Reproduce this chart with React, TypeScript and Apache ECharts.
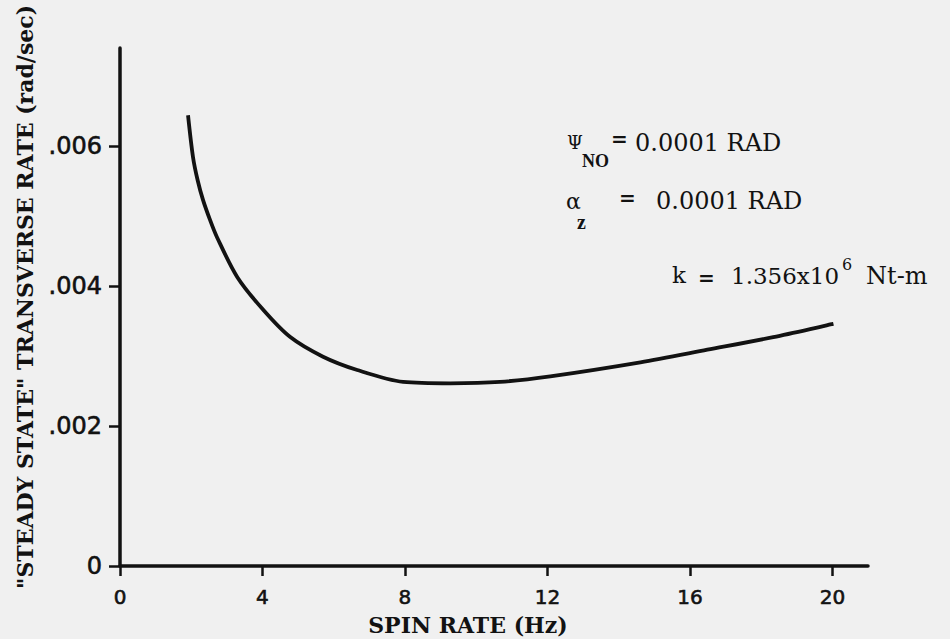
import React, { useEffect, useRef } from 'react';
import * as echarts from 'echarts';

// Values
const spinRate = [1.91, 2.05, 2.18, 2.33, 2.53, 2.72, 3.29, 4.02, 4.78, 5.7, 6.66, 7.95, 9.27, 10.67, 12.08, 14.61, 16.49, 18.34, 20.03];
const transverseRate = [0.00644, 0.00584, 0.00551, 0.00523, 0.00494, 0.0047, 0.00413, 0.00366, 0.00327, 0.00299, 0.0028, 0.00263, 0.00261, 0.00263, 0.00271, 0.00291, 0.00309, 0.00327, 0.00346];
const yTickLabels = ['0', '.002', '.004', '.006'];
const xTitle = 'SPIN RATE (Hz)';
const yTitle = '"STEADY STATE" TRANSVERSE RATE (rad/sec)';

const INK = '#121212';
const SERIF = '"DejaVu Serif", serif';
const TITLE = '"Liberation Serif", serif';
const SANS = '"DejaVu Sans", sans-serif';

export default function App() {
  const ref = useRef<HTMLDivElement>(null);
  useEffect(() => {
    if (!ref.current) return;
    const chart = echarts.init(ref.current, null, { renderer: 'svg' });
    const txt = (text: string, x: number, y: number, size: number, extra: any = {}, rotation = 0) => ({
      type: 'text',
      x,
      y,
      rotation,
      style: {
        text,
        fill: INK,
        fontFamily: SERIF,
        fontSize: size,
        textAlign: 'left',
        textVerticalAlign: 'middle',
        ...extra,
      },
    });
    chart.setOption({
      animation: false,
      backgroundColor: '#f0f0f0',
      grid: { left: 120, right: 82, top: 48, bottom: 73, containLabel: false },
      xAxis: {
        type: 'value',
        min: 0,
        max: 21,
        interval: 4,
        axisLine: { show: true, lineStyle: { color: INK, width: 3.5 } },
        axisTick: { show: true, length: 10, lineStyle: { color: INK, width: 2.5 } },
        axisLabel: {
          color: INK,
          fontFamily: SANS,
          fontSize: 20,
          margin: 21,
          textBorderColor: INK,
          textBorderWidth: 0.6,
          showMaxLabel: false,
        },
        splitLine: { show: false },
      },
      yAxis: {
        type: 'value',
        min: 0,
        max: 0.0074,
        interval: 0.002,
        axisLine: { show: true, lineStyle: { color: INK, width: 3.5 } },
        axisTick: { show: true, length: 11, lineStyle: { color: INK, width: 2.5 } },
        axisLabel: {
          color: INK,
          fontFamily: SANS,
          fontSize: 24,
          margin: 18,
          textBorderColor: INK,
          textBorderWidth: 0.6,
          showMaxLabel: false,
          formatter: (v: number) => yTickLabels[Math.round(v / 0.002)] ?? '',
        },
        splitLine: { show: false },
      },
      series: [
        {
          type: 'line',
          data: spinRate.map((x, i) => [x, transverseRate[i]]),
          smooth: 0.3,
          symbol: 'none',
          lineStyle: { color: INK, width: 3.8 },
        },
      ],
      graphic: [
        txt(yTitle, 25, 297, 22, { textAlign: 'center', fontWeight: 'bold' }, Math.PI / 2),
        txt(xTitle, 468, 625, 22, { textAlign: 'center', fontWeight: 'bold' }),
        // Psi_NO = 0.0001 RAD
        txt('Ψ', 567, 142, 18),
        txt('NO', 582, 161, 18, { fontWeight: 'bold', fontFamily: TITLE }),
        txt('=', 611, 139, 20, { fontWeight: 'bold' }),
        txt('0.0001 RAD', 635, 143, 24),
        // alpha_z = 0.0001 RAD
        txt('α', 566, 201, 22),
        txt('z', 577, 222, 20, { fontWeight: 'bold', fontFamily: TITLE }),
        txt('=', 619, 198, 20, { fontWeight: 'bold' }),
        txt('0.0001 RAD', 656, 201, 24),
        // k = 1.356x10^6 Nt-m
        txt('k', 672, 275, 23),
        txt('=', 698, 278, 20, { fontWeight: 'bold' }),
        txt('1.356x10', 731, 276, 23),
        txt('6', 842, 264, 16),
        txt('Nt-m', 866, 276, 24),
      ],
    });
    return () => chart.dispose();
  }, []);
  return <div ref={ref} style={{ position: 'fixed', left: 0, top: 0, width: 950, height: 639 }} />;
}
